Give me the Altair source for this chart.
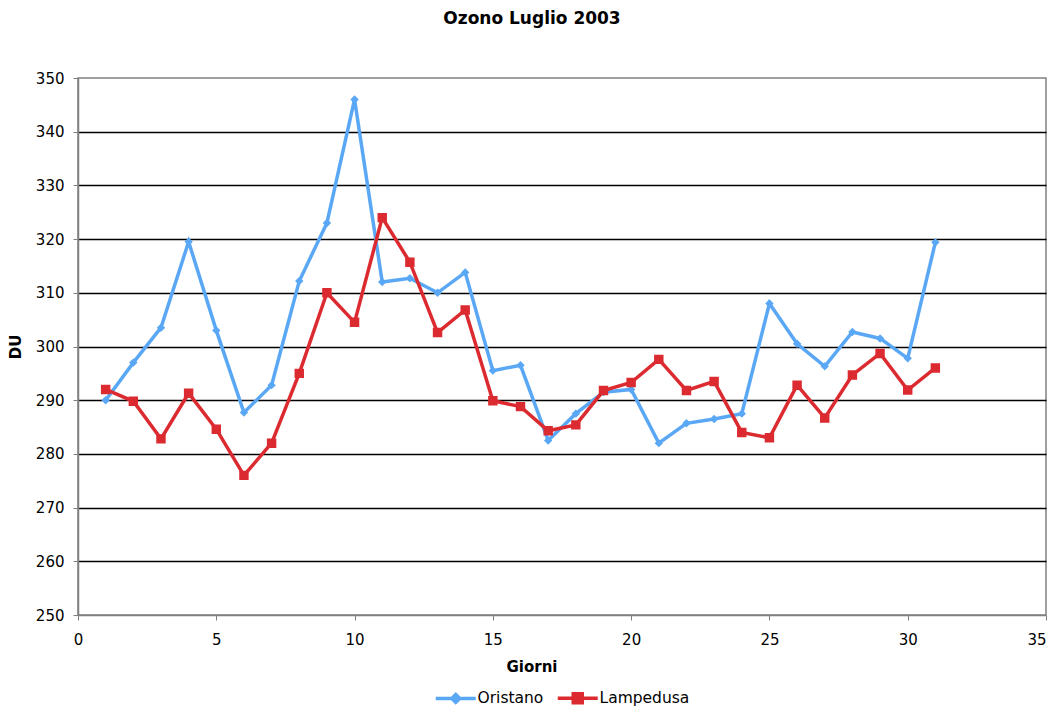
import altair as alt
import pandas as pd

days = list(range(1, 32))
oristano = [290.0, 297.0, 303.5, 319.5, 303.0, 287.7, 292.8, 312.2, 323.0, 346.0,
            312.0, 312.7, 310.0, 313.8, 295.5, 296.5, 282.5, 287.5, 291.5, 292.0,
            282.0, 285.7, 286.5, 287.5, 308.0, 300.5, 296.3, 302.7, 301.5, 297.8, 319.4]
lampedusa = [292.0, 289.8, 282.8, 291.3, 284.6, 276.0, 282.0, 295.0, 310.0, 304.5,
             324.0, 315.7, 302.6, 306.8, 289.9, 288.8, 284.3, 285.4, 291.8, 293.3,
             297.6, 291.8, 293.5, 284.0, 283.0, 292.8, 286.7, 294.7, 298.7, 291.9, 296.0]
series_names = ["Oristano", "Lampedusa"]
series_colors = ["#5AA8F5", "#DC2B30"]
x_ticks = [0, 5, 10, 15, 20, 25, 30, 35]
y_ticks = list(range(250, 351, 10))

rows = []
for name, vals in zip(series_names, [oristano, lampedusa]):
    for d, v in zip(days, vals):
        rows.append({"Giorni": d, "DU": v, "serie": name})
df = pd.DataFrame(rows)

# symbol paths: invisible line segment (zero area) + marker
diamond_path = "M-4,0H4M0,-0.8L0.8,0L0,0.8L-0.8,0Z"
square_path = "M-4,0H4M-0.9,-0.9H0.9V0.9H-0.9Z"

color_scale = alt.Scale(domain=series_names, range=series_colors)
shape_scale = alt.Scale(domain=series_names, range=[diamond_path, square_path])

x_enc = alt.X("Giorni:Q", scale=alt.Scale(domain=[0, 35], nice=False),
              axis=alt.Axis(values=x_ticks, title="Giorni", grid=False, labelFlush=False,
                            labelAlign={"expr": "datum.value == 35 ? 'right' : 'center'"},
                            labelPadding=12, titleX=453.5, titleY=44))
y_enc = alt.Y("DU:Q", scale=alt.Scale(domain=[250, 350], nice=False),
              axis=alt.Axis(values=y_ticks, title="DU", grid=True, labelPadding=9,
                            gridColor={"expr": "datum.value == 250 || datum.value == 350 ? 'transparent' : 'black'"},
                            titlePadding=12))

lines = alt.Chart(df).mark_line(strokeWidth=3.5).encode(
    x=x_enc, y=y_enc,
    color=alt.Color("serie:N", scale=color_scale, legend=None),
)

points = alt.Chart(df).mark_point(filled=True, size=110, opacity=1).encode(
    x=x_enc, y=y_enc,
    color=alt.Color("serie:N", scale=color_scale, legend=None),
    shape=alt.Shape("serie:N", scale=shape_scale, legend=None),
)

leg = alt.Legend(title=None, orient="none", direction="horizontal",
                 legendX=370, legendY=612, symbolOpacity=1, symbolStrokeWidth=3.5,
                 labelOffset=14, columnPadding=6, padding=0,
                 labelFontSize=15.5, labelFont="DejaVu Sans", labelColor="black")

legend_layer = alt.Chart(df).mark_point(filled=True, size=100, opacity=0, strokeWidth=3.5).encode(
    x=x_enc, y=y_enc,
    color=alt.Color("serie:N", scale=color_scale, legend=leg),
    stroke=alt.Stroke("serie:N", scale=color_scale, legend=leg),
    shape=alt.Shape("serie:N", scale=shape_scale, legend=leg),
)

chart = alt.layer(lines, points, legend_layer).resolve_legend(
    color="independent", shape="independent", stroke="independent"
).properties(
    width=968, height=537,
    autosize=alt.AutoSizeParams(type="none"),
    padding={"left": 70, "top": 70, "right": 4, "bottom": 92},
    title=alt.TitleParams("Ozono Luglio 2003", fontSize=17, font="DejaVu Sans",
                          fontWeight="bold", anchor="middle", dx=-30, offset=43, color="black"),
).configure_view(
    stroke="#808080", strokeWidth=1.5
).configure_axis(
    domainColor="#808080", domainWidth=1.5,
    tickColor="#808080", tickSize=5, tickWidth=1,
    labelFont="DejaVu Sans", labelFontSize=15, labelColor="black",
    titleFont="DejaVu Sans", titleFontSize=15, titleFontWeight="bold", titleColor="black",
    gridWidth=1.3,
)

chart.save("out.html", embed_options={"renderer": "svg", "actions": False})
